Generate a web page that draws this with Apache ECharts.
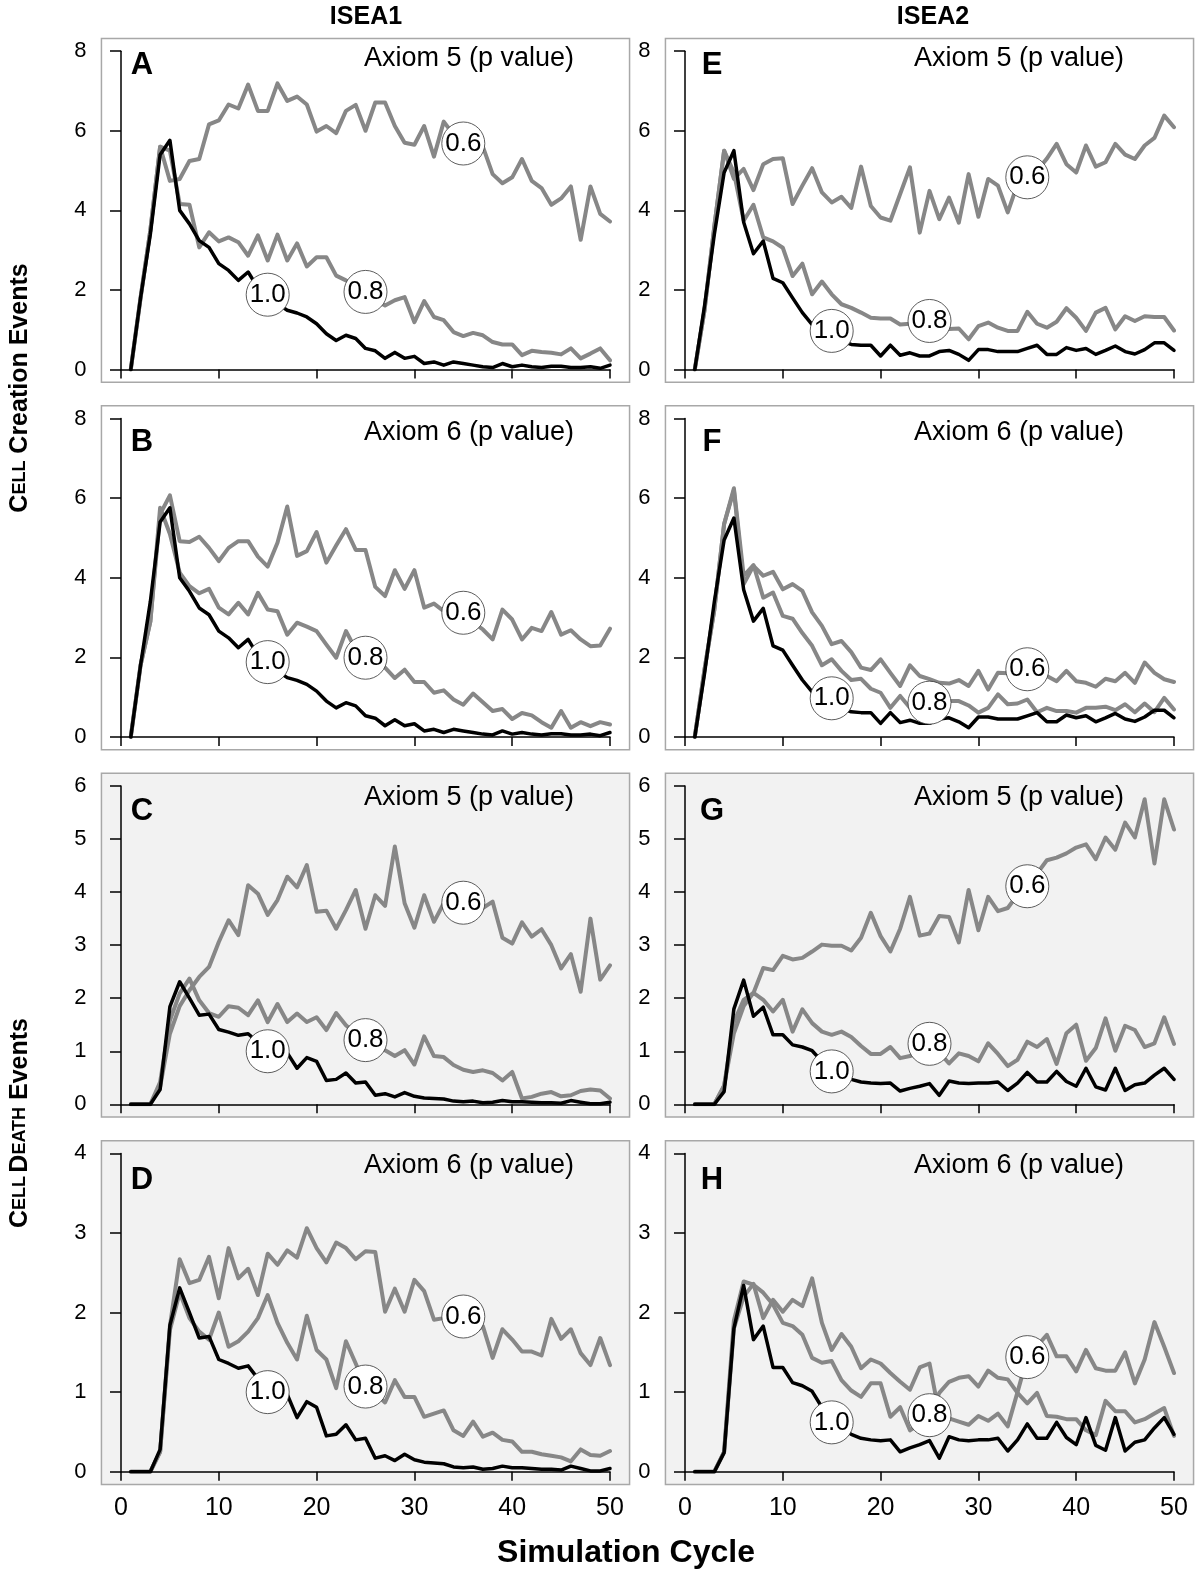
<!DOCTYPE html>
<html>
<head>
<meta charset="utf-8">
<script src="https://cdn.jsdelivr.net/npm/echarts@6/dist/echarts.min.js"></script>
<style>
html,body{margin:0;padding:0;background:#fff;}
#chart{width:1200px;height:1578px;}
</style>
</head>
<body>
<div id="chart"></div>
<script>
// ---------------- DATA ----------------
const cycles = [1,2,3,4,5,6,7,8,9,10,11,12,13,14,15,16,17,18,19,20,21,22,23,24,25,26,27,28,29,30,31,32,33,34,35,36,37,38,39,40,41,42,43,44,45,46,47,48,49,50];
const xTicks = [0,10,20,30,40,50];
const pLabels = ['1.0','0.8','0.6'];
const labelCycles = [15,25,35];

// p = 1.0 (same in both axioms)
const isea1Create10 = [0,1.8,3.4,5.4,5.76,4.0,3.66,3.24,3.07,2.66,2.49,2.24,2.45,2.05,1.88,1.65,1.49,1.42,1.32,1.15,0.9,0.73,0.86,0.78,0.53,0.47,0.28,0.43,0.28,0.33,0.15,0.19,0.11,0.19,0.15,0.11,0.07,0.05,0.15,0.07,0.11,0.07,0.05,0.08,0.08,0.05,0.05,0.07,0.03,0.11];
const isea2Create10 = [0,1.6,3.4,4.95,5.5,3.7,2.91,3.23,2.29,2.18,1.8,1.43,1.13,1.0,0.97,0.71,0.63,0.61,0.61,0.34,0.61,0.36,0.42,0.34,0.34,0.45,0.48,0.38,0.23,0.5,0.5,0.45,0.45,0.45,0.53,0.61,0.38,0.38,0.55,0.48,0.53,0.38,0.48,0.59,0.45,0.39,0.5,0.67,0.67,0.48];
const isea1Death10 = [0,0,0,0.28,1.84,2.31,2.0,1.68,1.7,1.41,1.36,1.3,1.33,1.17,1.0,0.87,0.97,0.68,0.88,0.81,0.45,0.47,0.59,0.4,0.42,0.17,0.2,0.14,0.22,0.15,0.12,0.11,0.1,0.06,0.05,0.06,0.03,0.04,0.07,0.05,0.05,0.04,0.03,0.03,0.02,0.07,0.04,0.01,0.01,0.04];
const isea2Death10 = [0,0,0,0.24,1.8,2.34,1.66,1.83,1.31,1.31,1.12,1.08,1.01,0.81,0.62,0.56,0.47,0.42,0.4,0.39,0.4,0.25,0.3,0.34,0.39,0.17,0.44,0.4,0.39,0.4,0.4,0.42,0.26,0.4,0.6,0.42,0.42,0.62,0.43,0.34,0.68,0.33,0.27,0.68,0.26,0.37,0.4,0.55,0.68,0.47];

// Panel A: ISEA1 creation, Axiom 5
const a08 = [0,1.8,3.5,5.6,5.5,4.16,4.14,3.07,3.45,3.22,3.32,3.2,2.86,3.37,2.74,3.39,2.74,3.17,2.59,2.82,2.82,2.36,2.24,2.1,1.95,1.74,1.61,1.74,1.82,1.19,1.72,1.32,1.24,0.94,0.84,0.92,0.86,0.69,0.63,0.63,0.36,0.47,0.44,0.42,0.38,0.53,0.28,0.4,0.53,0.23];
const a06 = [0,1.8,3.5,5.6,4.74,4.79,5.24,5.29,6.16,6.26,6.66,6.56,7.16,6.5,6.5,7.19,6.75,6.86,6.66,5.98,6.12,5.94,6.5,6.65,6.0,6.71,6.71,6.12,5.7,5.65,6.12,5.35,6.23,5.9,5.68,5.7,5.6,4.91,4.68,4.83,5.29,4.74,4.56,4.14,4.3,4.6,3.26,4.6,3.91,3.72];
// Panel B: ISEA1 creation, Axiom 6
const b08 = [0,1.8,2.9,5.76,5.1,4.13,3.79,3.61,3.72,3.25,3.08,3.37,3.08,3.62,3.2,3.16,2.57,2.87,2.77,2.66,2.32,1.99,2.66,2.2,1.99,1.86,1.74,1.48,1.69,1.38,1.38,1.11,1.17,0.94,0.81,1.09,0.87,0.65,0.7,0.45,0.6,0.54,0.37,0.23,0.65,0.23,0.37,0.27,0.37,0.31];
const b06 = [0,1.8,2.9,5.6,6.07,4.92,4.9,5.03,4.75,4.42,4.75,4.92,4.92,4.53,4.28,4.88,5.79,4.55,4.67,5.15,4.38,4.81,5.22,4.7,4.7,3.77,3.54,4.19,3.72,4.19,3.25,3.35,3.16,3.1,3.12,2.87,2.7,2.45,3.2,2.95,2.45,2.74,2.66,3.14,2.57,2.68,2.45,2.28,2.3,2.72];
// Panel C: ISEA1 death, Axiom 5
const c08 = [0,0,0,0.42,1.58,2.09,2.37,1.96,1.72,1.65,1.85,1.82,1.68,1.96,1.55,1.89,1.55,1.71,1.55,1.64,1.4,1.72,1.49,1.33,1.21,1.08,1.02,0.91,1.02,0.75,1.28,0.91,0.89,0.74,0.65,0.61,0.64,0.59,0.45,0.61,0.11,0.14,0.2,0.23,0.15,0.17,0.25,0.28,0.26,0.11];
const c06 = [0,0,0,0.33,1.33,1.85,2.15,2.4,2.59,3.06,3.47,3.19,4.13,3.97,3.57,3.85,4.29,4.09,4.51,3.63,3.65,3.31,3.66,4.04,3.31,3.94,3.74,4.86,3.79,3.33,3.94,3.44,3.79,3.75,3.8,3.75,3.7,3.82,3.14,3.03,3.43,3.16,3.3,3.0,2.56,2.83,2.12,3.5,2.35,2.62];
// Panel D: ISEA1 death, Axiom 6
const d08 = [0,0,0,0.25,1.78,2.25,1.93,1.76,1.66,2.0,1.57,1.64,1.76,1.93,2.22,1.87,1.62,1.41,1.96,1.53,1.41,1.05,1.64,1.36,1.07,0.99,0.87,1.15,0.94,0.94,0.69,0.73,0.77,0.52,0.45,0.63,0.44,0.49,0.4,0.38,0.25,0.25,0.22,0.2,0.18,0.13,0.28,0.21,0.2,0.26];
const d06 = [0,0,0,0.25,1.83,2.67,2.37,2.41,2.7,2.18,2.81,2.43,2.55,2.22,2.74,2.6,2.78,2.69,3.06,2.81,2.63,2.88,2.81,2.67,2.77,2.76,2.01,2.3,2.01,2.41,2.27,1.91,1.93,1.95,1.95,1.74,1.83,1.43,1.79,1.66,1.51,1.51,1.46,1.92,1.67,1.79,1.49,1.34,1.68,1.34];
// Panel E: ISEA2 creation, Axiom 5
const e08 = [0,1.5,3.6,5.5,4.95,3.74,4.14,3.32,3.22,3.06,2.35,2.66,1.89,2.21,1.89,1.64,1.55,1.43,1.3,1.28,1.28,1.13,1.15,1.2,1.22,1.1,1.02,1.03,0.76,1.09,1.18,1.05,0.97,0.97,1.45,1.15,1.05,1.2,1.54,1.3,0.97,1.43,1.55,1.01,1.34,1.22,1.34,1.32,1.32,0.98];
const e06 = [0,1.5,3.6,5.5,4.79,5.04,4.51,5.16,5.29,5.31,4.16,4.62,5.06,4.45,4.2,4.34,4.06,5.1,4.11,3.82,3.74,4.41,5.08,3.44,4.49,3.78,4.32,3.69,4.91,3.84,4.79,4.62,3.95,4.66,4.83,5.0,5.3,5.67,5.16,4.95,5.63,5.1,5.21,5.67,5.4,5.29,5.63,5.82,6.38,6.09];
// Panel F: ISEA2 creation, Axiom 6
const f08 = [0,1.7,3.2,5.35,6.25,4.05,4.32,3.5,3.63,3.04,2.97,2.61,2.29,1.8,1.95,1.66,1.43,1.46,1.21,1.11,0.73,1.03,0.73,0.8,0.86,0.88,0.9,0.9,0.79,0.61,0.73,1.07,0.82,0.84,0.94,0.62,0.73,0.65,0.65,0.61,0.73,0.73,0.76,0.67,0.82,0.62,0.84,0.62,0.98,0.69];
const f06 = [0,1.7,3.2,5.35,6.2,3.84,4.3,4.05,4.15,3.71,3.84,3.67,3.13,2.79,2.33,2.41,2.13,1.74,1.68,1.95,1.61,1.28,1.8,1.53,1.45,1.36,1.34,1.43,1.28,1.66,1.19,1.61,1.6,1.65,1.7,1.5,1.53,1.4,1.66,1.4,1.36,1.26,1.46,1.4,1.61,1.36,1.87,1.61,1.45,1.38];
// Panel G: ISEA2 death, Axiom 5
const g08 = [0,0,0,0.35,1.55,1.97,2.1,1.97,1.75,1.97,1.37,1.79,1.53,1.37,1.31,1.37,1.27,1.1,0.95,0.95,1.08,0.87,0.91,0.98,1.14,0.98,0.77,0.96,0.91,0.81,1.15,0.95,0.72,0.84,1.18,1.08,1.23,0.76,1.34,1.5,0.82,1.06,1.62,1.01,1.48,1.4,1.08,1.15,1.64,1.14];
const g06 = [0,0,0,0.35,1.34,1.85,2.1,2.57,2.53,2.8,2.73,2.76,2.88,3.01,2.99,2.99,2.9,3.14,3.61,3.17,2.88,3.31,3.91,3.18,3.22,3.55,3.53,3.05,4.04,3.28,3.91,3.64,3.7,3.95,4.11,4.35,4.6,4.65,4.73,4.84,4.9,4.62,5.03,4.8,5.31,5.03,5.75,4.54,5.75,5.18];
// Panel H: ISEA2 death, Axiom 6
const h08 = [0,0,0,0.25,1.9,2.39,2.35,2.25,2.1,1.87,1.83,1.72,1.43,1.37,1.39,1.15,1.02,0.94,1.11,1.11,0.69,0.81,0.52,0.6,0.71,0.99,1.13,1.18,1.2,1.07,1.27,1.18,1.16,0.99,0.86,0.99,0.7,0.69,0.66,0.66,0.52,0.46,0.89,0.76,0.76,0.62,0.66,0.73,0.8,0.45];
const h06 = [0,0,0,0.25,1.8,2.2,2.36,1.93,2.16,2.01,2.16,2.08,2.43,1.87,1.53,1.73,1.57,1.3,1.41,1.36,1.24,1.13,1.03,1.31,1.36,0.72,0.67,0.63,0.59,0.7,0.64,0.73,0.57,1.0,1.44,1.58,1.72,1.45,1.45,1.26,1.53,1.3,1.27,1.27,1.5,1.11,1.41,1.88,1.57,1.24];

const columnTitles = ['ISEA1','ISEA2'];
const panels = [
  {letter:'A', col:0, row:0, title:'Axiom 5 (p value)', ymax:8, step:2, s10:isea1Create10, s08:a08, s06:a06},
  {letter:'B', col:0, row:1, title:'Axiom 6 (p value)', ymax:8, step:2, s10:isea1Create10, s08:b08, s06:b06},
  {letter:'C', col:0, row:2, title:'Axiom 5 (p value)', ymax:6, step:1, s10:isea1Death10, s08:c08, s06:c06},
  {letter:'D', col:0, row:3, title:'Axiom 6 (p value)', ymax:4, step:1, s10:isea1Death10, s08:d08, s06:d06},
  {letter:'E', col:1, row:0, title:'Axiom 5 (p value)', ymax:8, step:2, s10:isea2Create10, s08:e08, s06:e06},
  {letter:'F', col:1, row:1, title:'Axiom 6 (p value)', ymax:8, step:2, s10:isea2Create10, s08:f08, s06:f06},
  {letter:'G', col:1, row:2, title:'Axiom 5 (p value)', ymax:6, step:1, s10:isea2Death10, s08:g08, s06:g06},
  {letter:'H', col:1, row:3, title:'Axiom 6 (p value)', ymax:4, step:1, s10:isea2Death10, s08:h08, s06:h06}
];

// ---------------- LAYOUT ----------------
const FONT = "'Liberation Sans', Arial, Helvetica, sans-serif";
const colLeft = [121, 685];
const dataW = 489;
const rowBottom = [369.5, 736.9, 1104.3, 1471.7];
const dataH = 318.3;
const padX = dataW * 0.04, padY = dataH * 0.04;
const rowBg = ['#ffffff', '#ffffff', '#f2f2f2', '#f2f2f2'];
const letterX = [142, 712];
const letterY = [65, 442.3, 811.7, 1180];
const titleRight = [574, 1124];
const titleY = [58.3, 432.3, 797.3, 1166];
const GRAY = '#878787';

const grid = [], xAxis = [], yAxis = [], series = [], graphic = [];

panels.forEach((p) => {
  const left = colLeft[p.col];
  const top = rowBottom[p.row] - dataH;
  // frame grid
  const fi = grid.length;
  grid.push({left: left - padX, top: top - padY, width: dataW + 2 * padX, height: dataH + 2 * padY,
    show: true, backgroundColor: rowBg[p.row], borderColor: '#a8a8a8', borderWidth: 1.5, z: 0});
  xAxis.push({gridIndex: fi, type: 'value', show: false, min: 0, max: 1});
  yAxis.push({gridIndex: fi, type: 'value', show: false, min: 0, max: 1});
  // data grid
  const di = grid.length;
  grid.push({left: left, top: top, width: dataW, height: dataH, show: false});
  xAxis.push({gridIndex: di, type: 'value', min: 0, max: 50, interval: 10, position: 'bottom', offset: padY, z: 3,
    axisLine: {show: true, lineStyle: {color: '#000', width: 1.5}},
    axisTick: {show: true, inside: false, length: 9, lineStyle: {color: '#000', width: 1.5}},
    axisLabel: {show: p.row === 3, fontSize: 25, color: '#000', fontFamily: FONT, margin: 11},
    splitLine: {show: false}});
  yAxis.push({gridIndex: di, type: 'value', min: 0, max: p.ymax, interval: p.step, position: 'left', offset: padX, z: 3,
    axisLine: {show: true, lineStyle: {color: '#000', width: 1.5}},
    axisTick: {show: true, inside: false, length: 11, lineStyle: {color: '#000', width: 1.5}},
    axisLabel: {show: true, fontSize: 22, color: '#000', fontFamily: FONT, margin: 15},
    splitLine: {show: false}});

  const lines = [
    {name: pLabels[2], data: p.s06, color: GRAY, width: 4, lc: labelCycles[2]},
    {name: pLabels[1], data: p.s08, color: GRAY, width: 4, lc: labelCycles[1]},
    {name: pLabels[0], data: p.s10, color: '#000', width: 3.5, lc: labelCycles[0]}
  ];
  lines.forEach((l) => {
    series.push({
      type: 'line', name: l.name, xAxisIndex: di, yAxisIndex: di,
      data: cycles.map((c, i) => [c, l.data[i]]),
      showSymbol: false, symbol: 'none', animation: false, z: 2,
      lineStyle: {color: l.color, width: l.width, join: 'round', cap: 'round'},
      markPoint: {
        symbol: 'circle', symbolSize: 43, z: 5, animation: false,
        itemStyle: {color: '#fff', borderColor: '#333', borderWidth: 0.8},
        label: {show: true, position: 'inside', formatter: l.name, color: '#000', fontSize: 26, fontFamily: FONT},
        data: [{coord: [l.lc, l.data[l.lc - 1]]}]
      }
    });
  });

  graphic.push({type: 'text', x: letterX[p.col], y: letterY[p.row], z: 10,
    style: {text: p.letter, fontSize: 31, fontWeight: 'bold', fontFamily: FONT, fill: '#000', align: 'center', verticalAlign: 'middle'}});
  graphic.push({type: 'text', x: titleRight[p.col], y: titleY[p.row], z: 10,
    style: {text: p.title, fontSize: 27, fontFamily: FONT, fill: '#000', align: 'right', verticalAlign: 'middle'}});
});

graphic.push({type: 'text', x: 366, y: 17, style: {text: columnTitles[0], fontSize: 25, fontWeight: 'bold', fontFamily: FONT, fill: '#000', align: 'center', verticalAlign: 'middle'}});
graphic.push({type: 'text', x: 933, y: 17, style: {text: columnTitles[1], fontSize: 25, fontWeight: 'bold', fontFamily: FONT, fill: '#000', align: 'center', verticalAlign: 'middle'}});
graphic.push({type: 'text', x: 626, y: 1553, style: {text: 'Simulation Cycle', fontSize: 32, fontWeight: 'bold', fontFamily: FONT, fill: '#000', align: 'center', verticalAlign: 'middle'}});

const richY = {
  b: {fontSize: 25, fontWeight: 'bold', fontFamily: FONT, fill: '#000'},
  s: {fontSize: 18, fontWeight: 'bold', fontFamily: FONT, fill: '#000'}
};
graphic.push({type: 'text', x: 20, y: 388, rotation: Math.PI / 2,
  style: {text: '{b|C}{s|ELL}{b| Creation Events}', rich: richY, align: 'center', verticalAlign: 'middle', fill: '#000'}});
graphic.push({type: 'text', x: 20, y: 1123, rotation: Math.PI / 2,
  style: {text: '{b|C}{s|ELL} {b|D}{s|EATH}{b| Events}', rich: richY, align: 'center', verticalAlign: 'middle', fill: '#000'}});

const chart = echarts.init(document.getElementById('chart'), null, {renderer: 'canvas'});
chart.setOption({
  backgroundColor: '#ffffff',
  animation: false,
  grid: grid, xAxis: xAxis, yAxis: yAxis, series: series, graphic: graphic
});
</script>
</body>
</html>
